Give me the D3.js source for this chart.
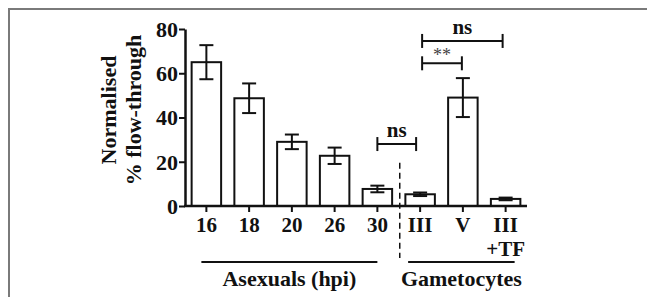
<!DOCTYPE html>
<html>
<head>
<meta charset="utf-8">
<script src="https://cdn.jsdelivr.net/npm/d3@7"></script>
<style>
  html, body { margin: 0; padding: 0; background: #fff; }
  svg { display: block; }
</style>
</head>
<body>
<script>
// ---- data ----
const categories = ["16", "18", "20", "26", "30", "III", "V", "III+TF"];
const tickLabels = [["16"], ["18"], ["20"], ["26"], ["30"], ["III"], ["V"], ["III", "+TF"]];
const means = [65, 48.7, 29, 22.7, 7.7, 5.3, 49, 3.2];
const errors = [7.7, 6.7, 3.3, 3.7, 1.5, 0.8, 8.8, 0.6];
const yTicks = [0, 20, 40, 60, 80];
const yTitle = ["Normalised", "% flow-through"];
const brackets = [
  { from: "30", to: "III", value: 28, label: "ns" },
  { from: "III", to: "V", value: 64.5, label: "**" },
  { from: "III", to: "III+TF", value: 74.6, label: "ns" }
];
const groups = [
  { label: "Asexuals (hpi)", from: "16", to: "30" },
  { label: "Gametocytes", from: "III", to: "III+TF" }
];

// ---- layout ----
const FONT = "'Liberation Serif', 'Times New Roman', 'DejaVu Serif', serif";
const W = 647, H = 297;
const svg = d3.select("body").append("svg").attr("width", W).attr("height", H);

// outer frame
svg.append("path")
  .attr("d", `M9,${H + 2} L9,9 L${W + 2},9`)
  .attr("fill", "none").attr("stroke", "#7a7a7a").attr("stroke-width", 2);

const x = d3.scaleBand().domain(categories).range([185, 527])
  .paddingInner(0.31).paddingOuter(0.155);
const y = d3.scaleLinear().domain([0, 80]).range([206, 29]);
const cx = c => x(c) + x.bandwidth() / 2;

const data = categories.map((c, i) => ({ c, m: means[i], e: errors[i] }));

// bars
svg.append("g").selectAll("rect").data(data).join("rect")
  .attr("x", d => x(d.c)).attr("width", x.bandwidth())
  .attr("y", d => y(d.m)).attr("height", d => y(0) - y(d.m))
  .attr("fill", "#fff").attr("stroke", "#111").attr("stroke-width", 2);

// error bars
const eb = svg.append("g").attr("stroke", "#111").attr("stroke-width", 2).attr("fill", "none");
data.forEach(d => {
  const xc = cx(d.c), cw = 7;
  eb.append("line").attr("x1", xc).attr("x2", xc).attr("y1", y(d.m + d.e)).attr("y2", y(d.m - d.e));
  eb.append("line").attr("x1", xc - cw).attr("x2", xc + cw).attr("y1", y(d.m + d.e)).attr("y2", y(d.m + d.e));
  eb.append("line").attr("x1", xc - cw).attr("x2", xc + cw).attr("y1", y(d.m - d.e)).attr("y2", y(d.m - d.e));
});

// y axis
const yAxis = svg.append("g").attr("transform", "translate(185,0)")
  .call(d3.axisLeft(y).tickValues(yTicks).tickSize(6).tickPadding(1).tickSizeOuter(0));
yAxis.select(".domain").attr("stroke", "#111").attr("stroke-width", 2.5);
yAxis.selectAll(".tick line").attr("stroke", "#111").attr("stroke-width", 2);
yAxis.selectAll(".tick text").attr("font-size", 22)
  .attr("fill", "#111").attr("dy", "0.34em");

// x axis
const xAxis = svg.append("g").attr("transform", "translate(0,206)")
  .call(d3.axisBottom(x).tickSize(6).tickSizeOuter(0).tickFormat(""));
xAxis.select(".domain").attr("stroke", "#111").attr("stroke-width", 2.5)
  .attr("d", "M184,0H527");
xAxis.selectAll(".tick line").attr("stroke", "#111").attr("stroke-width", 2);
xAxis.selectAll(".tick").each(function (c, i) {
  const t = d3.select(this).append("text").attr("text-anchor", "middle")
    .attr("font-size", 21).attr("fill", "#111");
  tickLabels[i].forEach((s, k) => {
    t.append("tspan").attr("x", 0).attr("y", 26 + k * 24).text(s);
  });
});

// y title
const yt = svg.append("text").attr("transform", "translate(122,110) rotate(-90)")
  .attr("text-anchor", "middle").attr("font-size", 22).attr("fill", "#111");
yTitle.forEach((s, k) => {
  yt.append("tspan").attr("x", 0).attr("y", k * 25 - 6).text(s);
});

// dashed separator
const sepX = (x("30") + x.bandwidth() + x("III")) / 2 + 1;
svg.append("line").attr("x1", sepX).attr("x2", sepX).attr("y1", y(19.5)).attr("y2", 258)
  .attr("stroke", "#111").attr("stroke-width", 1.5).attr("stroke-dasharray", "6,4");

// significance brackets
brackets.forEach(b => {
  const x1 = cx(b.from) + (b.from === "III" ? 2 : 0);
  const x2 = cx(b.to) - (b.to === "III" ? 4 : (b.to === "III+TF" ? 3 : 1));
  const yy = y(b.value);
  const g = svg.append("g").attr("stroke", "#111").attr("stroke-width", 2);
  g.append("line").attr("x1", x1).attr("x2", x2).attr("y1", yy).attr("y2", yy);
  g.append("line").attr("x1", x1).attr("x2", x1).attr("y1", yy - 7).attr("y2", yy + 7);
  g.append("line").attr("x1", x2).attr("x2", x2).attr("y1", yy - 7).attr("y2", yy + 7);
  const star = b.label === "**";
  svg.append("text").attr("x", (x1 + x2) / 2).attr("y", star ? yy - 2 : yy - 7)
    .attr("text-anchor", "middle")
    .attr("font-size", star ? 18 : 21)
    .attr("fill", star ? "#444" : "#111")
    .attr("data-w", star ? "normal" : "bold")
    .text(b.label);
});

// group lines and labels
groups.forEach((g, i) => {
  const x1 = cx(g.from) - (i === 0 ? 5 : 12);
  const x2 = cx(g.to) + (i === 0 ? 0 : 9);
  svg.append("line").attr("x1", x1).attr("x2", x2).attr("y1", 262).attr("y2", 262)
    .attr("stroke", "#111").attr("stroke-width", 2);
  svg.append("text").attr("x", (x1 + x2) / 2).attr("y", 286).attr("text-anchor", "middle")
    .attr("font-size", 22).attr("fill", "#111").text(g.label);
});

// apply serif bold font to every text element
svg.selectAll("text").each(function () {
  const s = d3.select(this);
  s.style("font-family", FONT)
   .style("font-weight", s.attr("data-w") || "bold");
});
</script>
</body>
</html>
